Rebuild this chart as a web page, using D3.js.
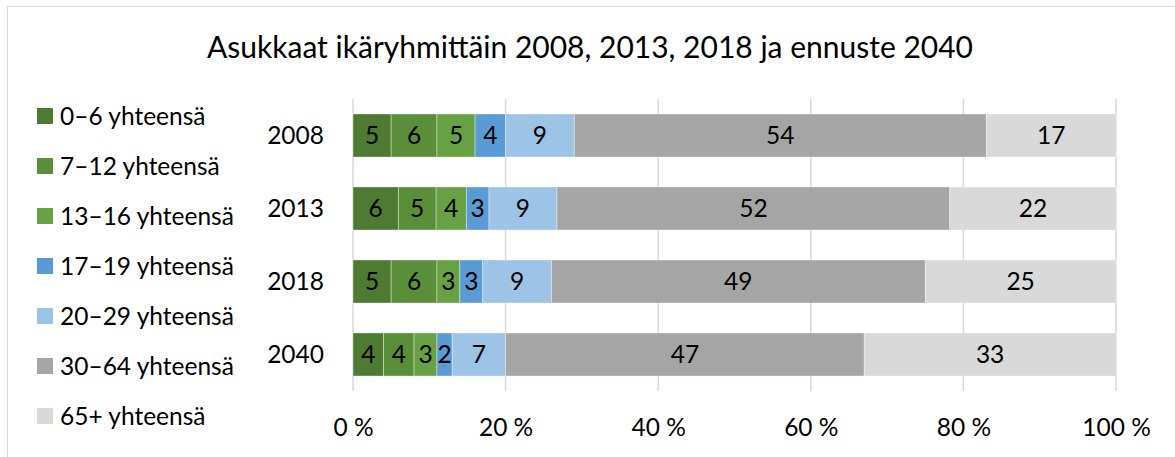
<!DOCTYPE html>
<html>
<head>
<meta charset="utf-8">
<script src="https://cdn.jsdelivr.net/npm/d3@7"></script>
<style>
  body { margin: 0; background: #fff; }
  text { font-family: Lato, "Open Sans", sans-serif; fill: #000; }
</style>
</head>
<body>
<svg></svg>
<script>
var years = ['2008', '2013', '2018', '2040']
var groups = ['0–6 yhteensä', '7–12 yhteensä', '13–16 yhteensä', '17–19 yhteensä',
              '20–29 yhteensä', '30–64 yhteensä', '65+ yhteensä']
// values per age group, one entry per year
var g0_6   = [5, 6, 5, 4]
var g7_12  = [6, 5, 6, 4]
var g13_16 = [5, 4, 3, 3]
var g17_19 = [4, 3, 3, 2]
var g20_29 = [9, 9, 9, 7]
var g30_64 = [54, 52, 49, 47]
var g65    = [17, 22, 25, 33]
var xTicks = [0, 20, 40, 60, 80, 100]
var colors = ['#4e7b31', '#5a8e38', '#67a143', '#5b9bd5', '#9dc3e6', '#a5a5a5', '#d9d9d9']

var series = [g0_6, g7_12, g13_16, g17_19, g20_29, g30_64, g65]
var title = 'Asukkaat ikäryhmittäin 2008, 2013, 2018 ja ennuste 2040'

var FONT = 24.5

document.addEventListener("DOMContentLoaded", function(event) {
    drawChart()
});

function drawChart() {
    var svgWidth = 1175, svgHeight = 457;
    var svg = d3.select('svg')
        .attr("width", svgWidth)
        .attr("height", svgHeight);

    // chart frame (cut off at right and bottom)
    svg.append("rect")
        .attr("x", 7.5).attr("y", 6.5)
        .attr("width", 1200).attr("height", 500)
        .attr("fill", "none")
        .attr("stroke", "#d9d9d9")
        .attr("stroke-width", 1);

    svg.append("text")
        .attr("x", 590)
        .attr("y", 58)
        .attr("text-anchor", "middle")
        .attr("font-size", "30px")
        .text(title);

    // build stacked rows normalised to 100 %
    var rows = years.map(function(year, i) {
        var total = d3.sum(series, function(s) { return s[i] })
        var acc = 0
        return series.map(function(s, k) {
            var seg = { year: year, k: k, value: s[i], x0: acc / total * 100 }
            acc += s[i]
            seg.x1 = acc / total * 100
            return seg
        })
    })

    var x = d3.scaleLinear().domain([0, 100]).range([353, 1116]);
    var y = d3.scaleBand().domain(years).range([99, 391]).paddingInner(0.41).paddingOuter(0.205);

    // gridlines
    svg.append("g")
        .selectAll("line")
        .data(xTicks)
        .join("line")
        .attr("x1", function(d) { return x(d) })
        .attr("x2", function(d) { return x(d) })
        .attr("y1", 99)
        .attr("y2", 391)
        .attr("stroke", "#d9d9d9")
        .attr("stroke-width", 1.5);

    // x axis labels
    var xAxis = svg.append("g")
        .attr("transform", "translate(0,391)")
        .call(d3.axisBottom(x).tickValues(xTicks).tickSize(0).tickPadding(0)
            .tickFormat(function(d) { return d + ' %' }));
    xAxis.select(".domain").remove();
    xAxis.selectAll("text")
        .attr("y", 45)
        .attr("dy", null)
        .attr("font-size", FONT + "px")
        .attr("font-family", "Lato, sans-serif");

    // y axis labels
    var yAxis = svg.append("g")
        .attr("transform", "translate(353,0)")
        .call(d3.axisLeft(y).tickSize(0).tickPadding(29));
    yAxis.select(".domain").remove();
    yAxis.selectAll("text")
        .attr("font-size", FONT + "px")
        .attr("font-family", "Lato, sans-serif")
        .attr("dy", "0.35em");

    // bars
    var bars = svg.append("g")
        .selectAll("g")
        .data(rows)
        .join("g");
    bars.selectAll("rect")
        .data(function(d) { return d })
        .join("rect")
        .attr("x", function(d) { return x(d.x0) })
        .attr("y", function(d) { return y(d.year) })
        .attr("width", function(d) { return x(d.x1) - x(d.x0) })
        .attr("height", y.bandwidth())
        .attr("fill", function(d) { return colors[d.k] })
        .attr("stroke", "#fff")
        .attr("stroke-opacity", 0.5)
        .attr("stroke-width", 0.75);
    bars.selectAll("text")
        .data(function(d) { return d })
        .join("text")
        .attr("x", function(d) { return (x(d.x0) + x(d.x1)) / 2 })
        .attr("y", function(d) { return y(d.year) + y.bandwidth() / 2 })
        .attr("dy", "0.35em")
        .attr("text-anchor", "middle")
        .attr("font-size", FONT + "px")
        .text(function(d) { return d.value });

    // legend
    var legend = svg.append("g")
        .selectAll("g")
        .data(groups)
        .join("g")
        .attr("transform", function(d, i) { return "translate(37," + (116 + i * 50) + ")" });
    legend.append("rect")
        .attr("x", 0).attr("y", -8)
        .attr("width", 16).attr("height", 16)
        .attr("fill", function(d, i) { return colors[i] });
    legend.append("text")
        .attr("x", 23)
        .attr("dy", "0.35em")
        .attr("font-size", FONT + "px")
        .text(function(d) { return d });
}
</script>
</body>
</html>
